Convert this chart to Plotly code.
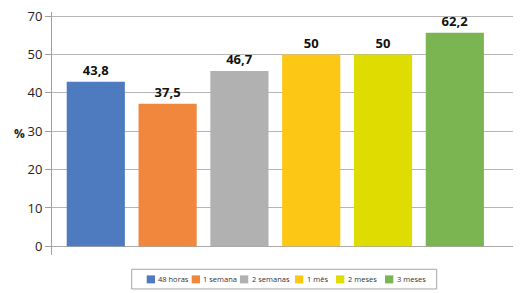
import plotly.graph_objects as go

# ---- data ----
categories = ["48 horas", "1 semana", "2 semanas", "1 mês", "2 meses", "3 meses"]
value_labels = ["43,8", "37,5", "46,7", "50", "50", "62,2"]
bar_heights = [42.9, 37.2, 45.7, 50, 50, 55.7]   # heights as drawn in the reference
tick_vals = [0, 10, 20, 30, 40, 50, 60]
tick_text = ["0", "10", "20", "30", "40", "50", "70"]

# ---- styles ----
colors = ["#4E7BC0", "#F1873D", "#B1B1B1", "#FDC716", "#DEDC00", "#7AB551"]
W, H = 521, 293
ML, MR, MT, MB = 52, 8, 11.7, 38
PW, PH = W - ML - MR, H - MT - MB


def px_x(px):
    return (px - ML) / PW


def px_y(py):
    return (H - MB - py) / PH


fig = go.Figure()
fig.add_trace(go.Bar(
    x=categories, y=bar_heights, text=value_labels,
    marker=dict(color=colors, line=dict(width=0)),
    textposition="outside", cliponaxis=False,
    textfont=dict(family="Open Sans", size=13, color="#111111", weight="bold"),
    showlegend=False, hoverinfo="skip",
))

# legend built by hand (small boxed key below the plot)
legend_swatch_px = [146.7, 191.7, 240.0, 295.0, 336.0, 385.0]
shapes = [dict(type="rect", xref="paper", yref="paper",
               x0=px_x(131.7), x1=px_x(436.7), y0=px_y(289), y1=px_y(269.3),
               line=dict(color="#A6A6A6", width=1), fillcolor="white", layer="above")]
annotations = []
for cat, col, sx in zip(categories, colors, legend_swatch_px):
    shapes.append(dict(type="rect", xref="paper", yref="paper",
                       x0=px_x(sx), x1=px_x(sx + 8.3), y0=px_y(283.4), y1=px_y(275.4),
                       line=dict(width=0), fillcolor=col, layer="above"))
    annotations.append(dict(text=cat, xref="paper", yref="paper",
                            x=px_x(sx + 9.5), y=px_y(279.4), xanchor="left", yanchor="middle",
                            showarrow=False,
                            font=dict(family="Open Sans", size=7.5, color="#333333")))

annotations.append(dict(text="<b>%</b>", xref="paper", yref="paper",
                        x=px_x(19), y=px_y(133), xanchor="center", yanchor="middle",
                        showarrow=False,
                        font=dict(family="Open Sans", size=12, color="#222222")))

fig.update_layout(
    width=W, height=H,
    margin=dict(l=ML, r=MR, t=MT, b=MB, pad=0),
    paper_bgcolor="white", plot_bgcolor="white",
    bargap=0.19,
    shapes=shapes, annotations=annotations,
    xaxis=dict(range=[-0.61, 5.81], showticklabels=False, showgrid=False,
               zeroline=False, showline=False, ticks=""),
    yaxis=dict(range=[-2.27, 61.1], tickvals=tick_vals, ticktext=tick_text,
               showgrid=True, gridcolor="#B6B6B6", gridwidth=1,
               zeroline=True, zerolinecolor="#A8A8A8", zerolinewidth=1,
               showline=True, linecolor="#A0A0A0", linewidth=1,
               ticks="outside", ticklen=6, tickcolor="#A0A0A0",
               tickfont=dict(family="Open Sans", size=13, color="#222222")),
)

fig.write_html("out.html", config={"displayModeBar": False},
               post_script="document.body.style.margin='0px';")
